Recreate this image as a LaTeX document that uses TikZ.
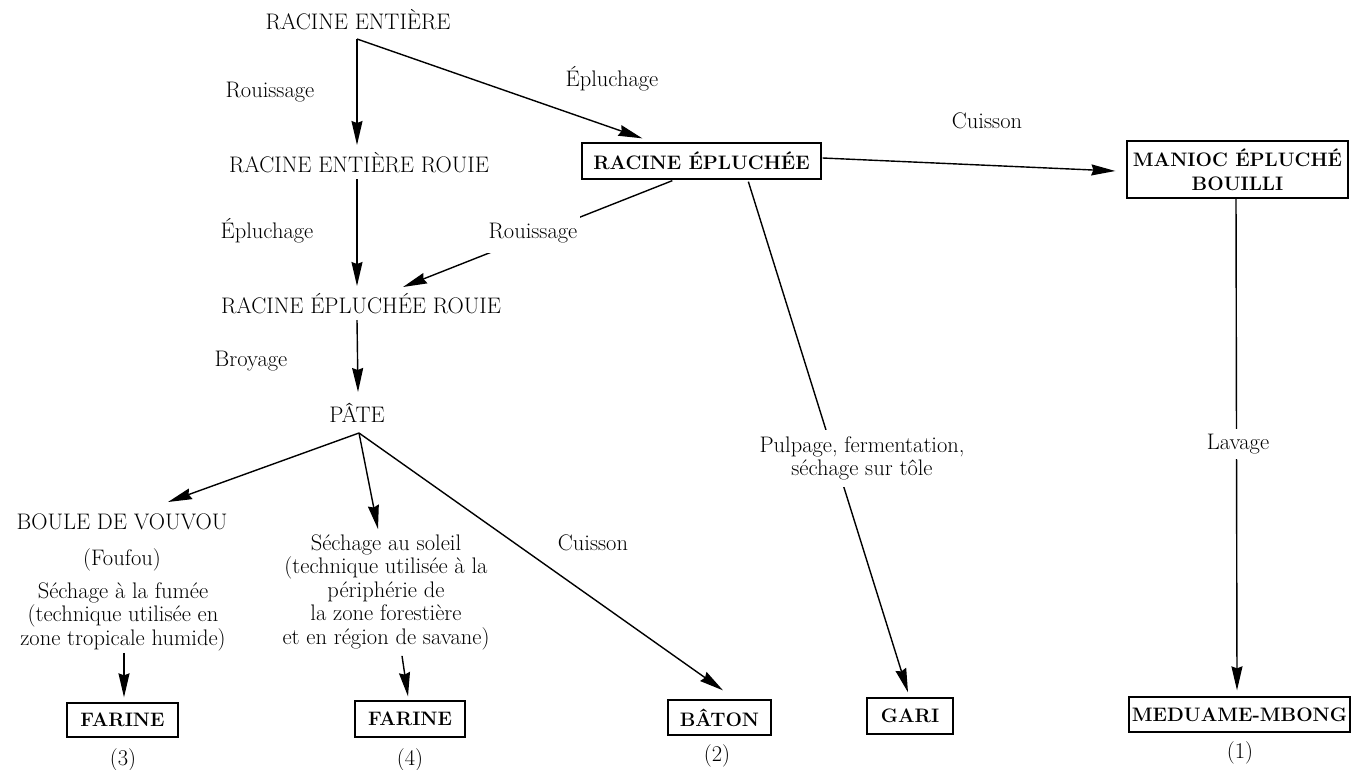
\documentclass[tikz,border=0pt]{standalone}
\usetikzlibrary{arrows.meta,calc}
\begin{document}
\begin{tikzpicture}[x=1pt,y=-1pt,
  lbl/.style={font=\fontsize{22.5}{23.5}\selectfont, inner sep=0pt, anchor=base, align=center},
  bx/.style={draw, line width=1.3pt, font=\bfseries\fontsize{19.5}{24}\selectfont, inner sep=0pt, align=center},
  arr/.style={line width=1.4pt, -{Stealth[length=24pt,width=11pt,inset=2pt]}},
  ln/.style={line width=1.4pt},
  cut/.style={fill=white}
]
\useasboundingbox (0,0) rectangle (1351,769);

% text nodes
\node[lbl] (re) at (358,29) {RACINE ENTIÈRE};
\node[lbl] (rou1) at (270,97) {Rouissage};
\node[lbl] (epl1) at (612,86) {Épluchage};
\node[lbl] (cui1) at (987,128) {Cuisson};
\node[lbl] (rer) at (359,172) {RACINE ENTIÈRE ROUIE};
\node[bx, minimum width=239pt, minimum height=36pt] (rep) at (701.5,161) {RACINE ÉPLUCHÉE};
\node[bx, minimum width=221pt, minimum height=57pt] (manioc) at (1237.5,169.5) {MANIOC ÉPLUCHÉ\\BOUILLI};
\node[lbl] (epl2) at (267,238) {Épluchage};
\node[lbl] (rer2) at (361,313) {RACINE ÉPLUCHÉE ROUIE};
\node[lbl] (broy) at (251,366) {Broyage};
\node[lbl] (pate) at (357,422) {PÂTE};
\node[lbl] (boule) at (122,529) {BOULE DE VOUVOU};
\node[lbl] (fou) at (122,565) {(Foufou)};
\node[lbl, anchor=north] (fumee) at (123,582.1) {Séchage à la fumée\\(technique utilisée en\\zone tropicale humide)};
\node[lbl, anchor=north] (soleil) at (386,534.1) {Séchage au soleil\\(technique utilisée à la\\périphérie de\\la zone forestière\\et en région de savane)};
\node[lbl] (cui2) at (593,550) {Cuisson};
\node[bx, minimum width=111pt, minimum height=34pt] (far3) at (122.5,720) {FARINE};
\node[bx, minimum width=110pt, minimum height=36pt] (far4) at (410,719) {FARINE};
\node[bx, minimum width=103pt, minimum height=35pt] (baton) at (719.5,717.5) {BÂTON};
\node[bx, minimum width=86pt, minimum height=36pt] (gari) at (910,716) {GARI};
\node[bx, minimum width=221pt, minimum height=35pt] (med) at (1239.5,714.5) {MEDUAME-MBONG};
\node[lbl] (n3) at (123,765) {(3)};
\node[lbl] (n4) at (410,765) {(4)};
\node[lbl] (n2) at (717,761) {(2)};
\node[lbl] (n1) at (1240,758) {(1)};

% branching points
\coordinate (a1) at (357,39);
\coordinate (a2) at (359,433);

% connectors
\draw[arr] (a1) -- ($(rer.base)+(-2,-27)$);
\draw[arr] (a1) -- ($(rep.north west)+(61,-4)$);
\draw[arr] ($(rer.base)+(-2,7)$) -- ($(rer2.base)+(-4,-27)$);
\draw[arr] ($(rep.south west)+(91,1)$) -- ($(rer2.base)+(42,-26)$);
\draw[arr] ($(rer2.base)+(-4,7)$) -- ($(pate.base)+(1,-30)$);
\draw[arr] (a2) -- ($(boule.base)+(46,-27)$);
\draw[arr] (a2) -- ($(soleil.north)+(-8,-5)$);
\draw[arr] (a2) -- ($(baton.north)+(3.5,-9)$);
\draw[arr] ($(fumee.south)+(1,2)$) -- ($(far3.north)+(1.5,-5)$);
\draw[arr] ($(soleil.south)+(16,6)$) -- ($(far4.north)+(-2,-4)$);
\draw[arr] ($(rep.east)+(1,-3)$) -- ($(manioc.west)+(-11,1.5)$);
\draw[arr] ($(rep.south west)+(167,2)$) -- ($(gari.north)+(-2,-5)$);
\draw[arr] ($(manioc.south)+(-1.5,0)$) -- ($(med.north)+(-2.5,-6)$);

% labels that interrupt connectors
\node[lbl, cut, inner xsep=3pt, inner ysep=10pt] (rou2) at (533,238) {Rouissage};
\node[lbl, cut, anchor=north, inner xsep=4pt, inner ysep=6.5pt] (pulp) at (862,429.6) {Pulpage, fermentation,\\séchage sur tôle};
\node[lbl, cut, inner xsep=3pt, inner ysep=5pt] (lav) at (1238,449) {Lavage};
\end{tikzpicture}
\end{document}
